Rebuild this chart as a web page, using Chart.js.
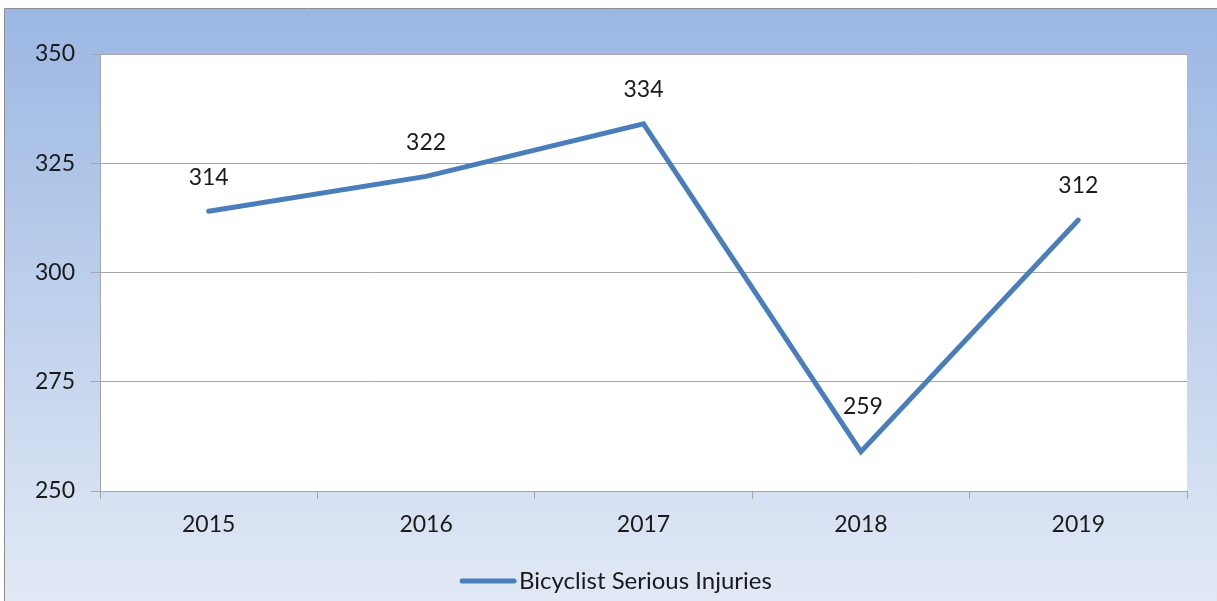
<!DOCTYPE html>
<html>
<head>
<meta charset="utf-8">
<title>Bicyclist Serious Injuries</title>
<script src="https://cdn.jsdelivr.net/npm/chart.js@4/dist/chart.umd.min.js"></script>
<style>
  html, body { margin: 0; padding: 0; background: #fff; }
  #wrap { width: 1217px; height: 601px; }
</style>
</head>
<body>
<div id="wrap"><canvas id="chart" width="1217" height="601"></canvas></div>
<script>
// --- Data ---
const years = ['2015', '2016', '2017', '2018', '2019'];
const injuries = [314, 322, 334, 259, 312];
const yTicks = [250, 275, 300, 325, 350];
const seriesName = 'Bicyclist Serious Injuries';

const FONT = 'Lato, "Open Sans", sans-serif';
const LINE_COLOR = '#4a7ebb';
const GRID_COLOR = '#a6a6a6';
const TEXT_COLOR = '#1a1a1a';

// --- Background + frame ---
const backdrop = {
  id: 'backdrop',
  beforeDraw(chart) {
    const { ctx, width, height, chartArea } = chart;
    ctx.save();
    ctx.fillStyle = '#ffffff';
    ctx.fillRect(0, 0, width, height);
    const g = ctx.createLinearGradient(0, 9, 0, height);
    g.addColorStop(0, '#9bb7e3');
    g.addColorStop(1, '#e2e9f5');
    ctx.fillStyle = g;
    ctx.fillRect(5, 9, width - 5, height - 9);
    ctx.strokeStyle = '#8c8c8c';
    ctx.lineWidth = 1;
    ctx.beginPath();
    ctx.moveTo(4.5, height);
    ctx.lineTo(4.5, 8.5);
    ctx.lineTo(width, 8.5);
    ctx.stroke();
    // plot area
    ctx.fillStyle = '#ffffff';
    ctx.fillRect(chartArea.left, chartArea.top, chartArea.right - chartArea.left, chartArea.bottom - chartArea.top);
    ctx.restore();
  }
};

// --- Value labels + legend ---
const labelsAndLegend = {
  id: 'labelsAndLegend',
  afterDatasetsDraw(chart) {
    const { ctx } = chart;
    const meta = chart.getDatasetMeta(0);
    ctx.save();
    ctx.font = '23px ' + FONT;
    ctx.fillStyle = TEXT_COLOR;
    ctx.textAlign = 'center';
    ctx.textBaseline = 'middle';
    meta.data.forEach((pt, i) => {
      // the label in the dip sits a little higher so it clears the line
      const lift = i === 3 ? 45 : 34;
      ctx.fillText(String(injuries[i]), pt.x + (i === 3 ? 2 : 0), pt.y - lift);
    });

    // legend
    ctx.font = '24px ' + FONT;
    const text = chart.data.datasets[0].label;
    const textW = ctx.measureText(text).width;
    const lineW = 56, gap = 3;
    const total = lineW + gap + textW;
    const x0 = (457 + 775) / 2 - total / 2;
    const y = 581;
    ctx.strokeStyle = LINE_COLOR;
    ctx.lineWidth = 5;
    ctx.lineCap = 'round';
    ctx.beginPath();
    ctx.moveTo(x0 + 2, y);
    ctx.lineTo(x0 + lineW - 2, y);
    ctx.stroke();
    ctx.textAlign = 'left';
    ctx.fillText(text, x0 + lineW + gap, y);
    ctx.restore();
  }
};

new Chart(document.getElementById('chart'), {
  type: 'line',
  data: {
    labels: years,
    datasets: [{
      label: seriesName,
      data: injuries,
      borderColor: LINE_COLOR,
      backgroundColor: LINE_COLOR,
      borderWidth: 5,
      borderCapStyle: 'round',
      pointRadius: 0,
      pointHoverRadius: 0,
      tension: 0,
      fill: false
    }]
  },
  options: {
    responsive: false,
    animation: false,
    events: [],
    layout: { padding: { left: 5, right: 30, top: 54, bottom: 60 } },
    plugins: {
      legend: { display: false },
      tooltip: { enabled: false }
    },
    scales: {
      x: {
        type: 'category',
        offset: true,
        grid: {
          offset: true,
          drawOnChartArea: false,
          drawTicks: true,
          tickLength: 8,
          color: GRID_COLOR
        },
        border: { display: true, color: GRID_COLOR, width: 1 },
        ticks: {
          color: TEXT_COLOR,
          font: { family: FONT, size: 23 },
          padding: 12,
          maxRotation: 0
        },
        afterFit(scale) { scale.height = 50; }
      },
      y: {
        min: 250,
        max: 350,
        afterBuildTicks(scale) { scale.ticks = yTicks.map(v => ({ value: v })); },
        grid: {
          color: GRID_COLOR,
          tickLength: 9,
          drawTicks: true
        },
        border: { display: true, color: GRID_COLOR, width: 1 },
        ticks: {
          color: TEXT_COLOR,
          font: { family: FONT, size: 23 },
          padding: 16
        },
        afterFit(scale) { scale.width = 95; }
      }
    }
  },
  plugins: [backdrop, labelsAndLegend]
});
</script>
</body>
</html>
